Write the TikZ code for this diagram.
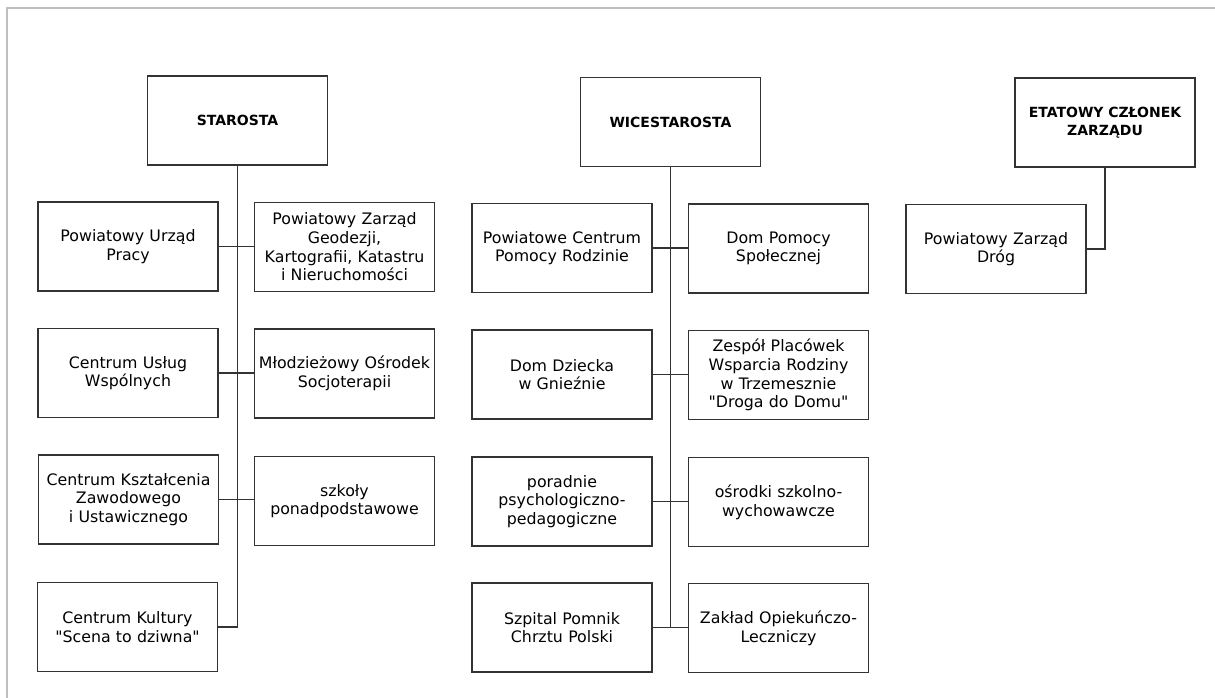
\documentclass[tikz,border=0pt]{standalone}
\usepackage{fontspec}
\setmainfont{DejaVu Sans}
\usepackage{tikz}

\tikzset{
  unit/.style={draw=black!80, line width=1.1pt, minimum width=180pt, minimum height=89pt,
    inner sep=0pt, text width=178pt, align=center, font=\fontsize{15.8}{18.7}\selectfont},
  head/.style={unit, font=\fontsize{14}{17.5}\selectfont\bfseries},
  link/.style={draw=black!80, line width=1.1pt}
}

\begin{document}
\begin{tikzpicture}[x=1pt, y=-1pt]
	\useasboundingbox (0,0) rectangle (1215,698);
	\draw[black!25, line width=1.6pt] (7,698) -- (7,8) -- (1215,8);
	% starosta
	\node[head] (sta) at (237.5,120.5) {STAROSTA};
	\node[unit] (pup) at (128,246.5) {Powiatowy Urząd\\Pracy};
	\node[unit] (pzg) at (344.5,247) {Powiatowy Zarząd\\Geodezji,\\Kartografii, Katastru\\i Nieruchomości};
	\node[unit] (cuw) at (128,373) {Centrum Usług\\Wspólnych};
	\node[unit] (mos) at (344.5,373.5) {Młodzieżowy Ośrodek\\Socjoterapii};
	\node[unit] (ckz) at (128.5,499.5) {Centrum Kształcenia\\Zawodowego\\i Ustawicznego};
	\node[unit] (szk) at (344.5,501) {szkoły\\ponadpodstawowe};
	\node[unit] (kul) at (127.5,627) {Centrum Kultury\\\textquotedbl Scena to dziwna\textquotedbl};
	\draw[link] (sta.south) -- (sta.south |- kul.east) -- (kul.east);
	\draw[link] (pup.east) -- (pup.east -| pzg.west);
	\draw[link] (cuw.east) -- (cuw.east -| mos.west);
	\draw[link] (ckz.east) -- (ckz.east -| szk.west);
	% wicestarosta
	\node[head] (wic) at (670.5,122) {WICESTAROSTA};
	\node[unit] (pcp) at (562,248) {Powiatowe Centrum\\Pomocy Rodzinie};
	\node[unit] (dps) at (778.5,248.5) {Dom Pomocy\\Społecznej};
	\node[unit] (ddz) at (562,374.5) {Dom Dziecka\\w Gnieźnie};
	\node[unit] (zpw) at (778.5,375) {Zespół Placówek\\Wsparcia Rodziny\\w Trzemesznie\\\textquotedbl Droga do Domu\textquotedbl};
	\node[unit] (ppp) at (562,501.5) {poradnie\\psychologiczno-\\pedagogiczne};
	\node[unit] (osw) at (778.5,502) {ośrodki szkolno-\\wychowawcze};
	\node[unit] (szp) at (562,627.5) {Szpital Pomnik\\Chrztu Polski};
	\node[unit] (zol) at (778.5,628) {Zakład Opiekuńczo-\\Leczniczy};
	\draw[link] (wic.south) -- (wic.south |- szp.east);
	\draw[link] (pcp.east) -- (pcp.east -| dps.west);
	\draw[link] (ddz.east) -- (ddz.east -| zpw.west);
	\draw[link] (ppp.east) -- (ppp.east -| osw.west);
	\draw[link] (szp.east) -- (szp.east -| zol.west);
	% etatowy czlonek
	\node[head] (etc) at (1105,122.5) {ETATOWY CZŁONEK\\ZARZĄDU};
	\node[unit] (pzd) at (996,249) {Powiatowy Zarząd\\Dróg};
	\draw[link] (etc.south) -- (etc.south |- pzd.east) -- (pzd.east);
\end{tikzpicture}
\end{document}
